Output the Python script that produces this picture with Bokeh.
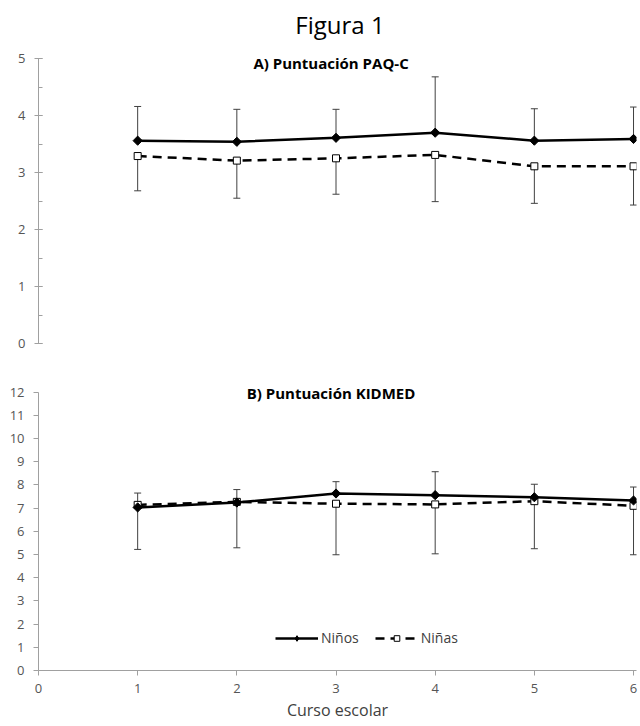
from math import pi
from bokeh.plotting import figure
from bokeh.layouts import column
from bokeh.models import (ColumnDataSource, Whisker, TeeHead, Label, Legend, LegendItem,
                          SingleIntervalTicker)
from bokeh.embed import file_html
from bokeh.resources import INLINE

# ---------------- data ----------------
curso = [1, 2, 3, 4, 5, 6]

paq_ninos = [3.56, 3.54, 3.61, 3.70, 3.56, 3.59]
paq_ninos_sd = [0.60, 0.57, 0.50, 0.98, 0.56, 0.56]
paq_ninas = [3.29, 3.21, 3.25, 3.31, 3.11, 3.11]
paq_ninas_sd = [0.61, 0.66, 0.63, 0.82, 0.65, 0.68]

kid_ninos = [7.03, 7.24, 7.63, 7.56, 7.47, 7.33]
kid_ninos_sd = [0.62, 0.56, 0.51, 1.01, 0.56, 0.58]
kid_ninas = [7.14, 7.27, 7.19, 7.16, 7.30, 7.10]
kid_ninas_sd = [1.92, 1.98, 2.20, 2.13, 2.05, 2.11]

titulo = "Figura 1"
sub_a = "A) Puntuación PAQ-C"
sub_b = "B) Puntuación KIDMED"
x_label = "Curso escolar"
serie_names = ["Niños", "Niñas"]

FONT = "Open Sans"
AXIS_COL = "#a0a0a0"
TICK_TXT = "#555555"
ERR_COL = "#404040"
DASH = "9 6"


def style_axis(ax, ticks_in, ticks_out, minor_in, minor_out, n_minor, bounds):
    ax.ticker = SingleIntervalTicker(interval=1, num_minor_ticks=n_minor)
    ax.bounds = bounds
    ax.axis_line_color = AXIS_COL
    ax.major_tick_line_color = AXIS_COL
    ax.minor_tick_line_color = AXIS_COL
    ax.major_tick_in = ticks_in
    ax.major_tick_out = ticks_out
    ax.minor_tick_in = minor_in
    ax.minor_tick_out = minor_out
    ax.major_label_text_font = FONT
    ax.major_label_text_font_size = "13px"
    ax.major_label_text_color = TICK_TXT
    ax.major_label_standoff = 9


def draw_series(p, x, ninos, ninos_sd, ninas, ninas_sd):
    up = [m + s for m, s in zip(ninos, ninos_sd)]
    lo = [m - s for m, s in zip(ninas, ninas_sd)]
    s1 = ColumnDataSource(dict(x=x, lower=ninos, upper=up))
    s2 = ColumnDataSource(dict(x=x, lower=lo, upper=ninas))
    w1 = Whisker(base="x", lower="lower", upper="upper", source=s1,
                 line_color=ERR_COL, line_width=1,
                 upper_head=TeeHead(size=7, line_color=ERR_COL, line_width=1),
                 lower_head=None)
    w2 = Whisker(base="x", lower="lower", upper="upper", source=s2,
                 line_color=ERR_COL, line_width=1,
                 lower_head=TeeHead(size=7, line_color=ERR_COL, line_width=1),
                 upper_head=None)
    p.add_layout(w1)
    p.add_layout(w2)
    l2 = p.line(x, ninas, line_color="black", line_width=2.5, line_dash=DASH)
    m2 = p.scatter(x, ninas, marker="square", size=7, fill_color="white",
                   line_color="black", line_width=1)
    l1 = p.line(x, ninos, line_color="black", line_width=2.5)
    m1 = p.scatter(x, ninos, marker="square", angle=pi / 4, size=6.5,
                   fill_color="black", line_color="black")
    return (l1, m1), (l2, m2)


# ---------------- top panel ----------------
p1 = figure(width=640, height=355, x_range=(0, 6.03), y_range=(0, 6.02),
            output_backend="svg", toolbar_location=None, x_axis_location=None,
            min_border_left=38, min_border_right=4, min_border_top=0,
            min_border_bottom=12)
p1.grid.visible = False
p1.outline_line_color = None
style_axis(p1.yaxis[0], 4, 4, 4, 0, 2, (0, 5))
draw_series(p1, curso, paq_ninos, paq_ninos_sd, paq_ninas, paq_ninas_sd)
p1.add_layout(Label(x=3.04, y=5.6, text=titulo, text_font=FONT, text_font_size="24px",
                    text_align="center", text_baseline="middle", text_color="black"))
p1.add_layout(Label(x=2.95, y=4.92, text=sub_a, text_font=FONT, text_font_size="15px",
                    text_font_style="bold", text_align="center",
                    text_baseline="middle", text_color="black"))

# ---------------- bottom panel ----------------
p2 = figure(width=640, height=371, x_range=(0, 6.03), y_range=(0, 13.58),
            output_backend="svg", toolbar_location=None,
            min_border_left=38, min_border_right=4, min_border_top=0,
            min_border_bottom=56)
p2.grid.visible = False
p2.outline_line_color = None
style_axis(p2.yaxis[0], 0, 5, 0, 0, 0, (0, 12))
style_axis(p2.xaxis[0], 0, 5, 0, 0, 0, (0, 6.03))
p2.xaxis[0].major_label_standoff = 8
p2.xaxis[0].axis_label = x_label
p2.xaxis[0].axis_label_standoff = 3
p2.xaxis[0].axis_label_text_font = FONT
p2.xaxis[0].axis_label_text_font_size = "16px"
p2.xaxis[0].axis_label_text_font_style = "normal"
p2.xaxis[0].axis_label_text_color = "#404040"
(a1, a2), (b1, b2) = draw_series(p2, curso, kid_ninos, kid_ninos_sd, kid_ninas, kid_ninas_sd)
p2.add_layout(Label(x=2.95, y=11.98, text=sub_b, text_font=FONT, text_font_size="15px",
                    text_font_style="bold", text_align="center",
                    text_baseline="middle", text_color="black"))

# legend-only diamond glyph (a single NaN point, never drawn in the plot)
leg_diamond = p2.scatter(x=[float("nan")], y=[float("nan")], marker="diamond", size=12,
                         fill_color="black", line_color="black")

legend = Legend(items=[LegendItem(label=serie_names[0], renderers=[a1, leg_diamond]),
                       LegendItem(label=serie_names[1], renderers=[b1, b2])],
                orientation="horizontal", location=(237, 23),
                glyph_width=43, glyph_height=14, label_height=14,
                label_standoff=3, spacing=16, padding=0, margin=0,
                border_line_color=None, background_fill_alpha=0,
                label_text_font=FONT, label_text_font_size="14px",
                label_text_color="#404040")
p2.add_layout(legend)

layout = column(p1, p2, spacing=0)
open("out.html", "w").write(file_html(layout, INLINE))
